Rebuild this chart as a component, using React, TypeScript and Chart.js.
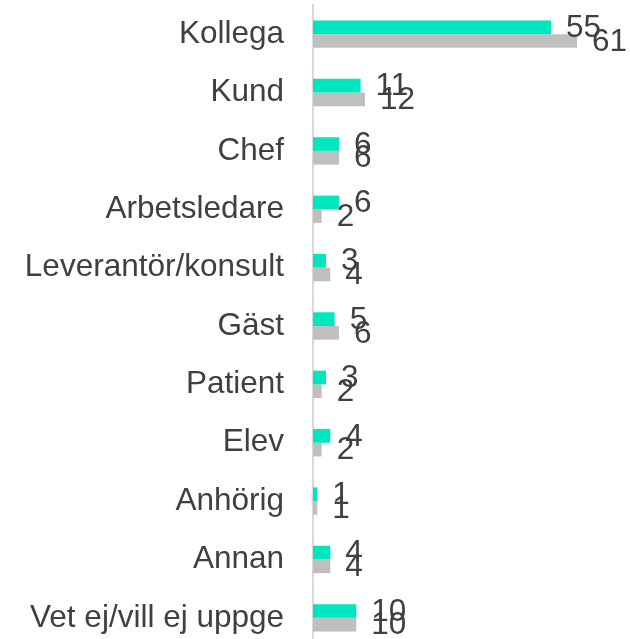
import React, { useEffect, useRef } from "react";
import { Chart, registerables } from "chart.js";

Chart.register(...registerables);

const categories = [
  "Kollega",
  "Kund",
  "Chef",
  "Arbetsledare",
  "Leverantör/konsult",
  "Gäst",
  "Patient",
  "Elev",
  "Anhörig",
  "Annan",
  "Vet ej/vill ej uppge",
];
const seriesA = [55, 11, 6, 6, 3, 5, 3, 4, 1, 4, 10];
const seriesB = [61, 12, 6, 2, 4, 6, 2, 2, 1, 4, 10];

const FONT = "'Liberation Sans', Arial, sans-serif";
const TEXT = "#404040";

const valueLabels = {
  id: "valueLabels",
  afterDatasetsDraw(chart: any) {
    const ctx = chart.ctx;
    ctx.save();
    ctx.font = `31.5px ${FONT}`;
    ctx.fillStyle = TEXT;
    ctx.textAlign = "left";
    ctx.textBaseline = "middle";
    chart.data.datasets.forEach((ds: any, di: number) => {
      const meta = chart.getDatasetMeta(di);
      meta.data.forEach((el: any, i: number) => {
        ctx.fillText(String(ds.data[i]), el.x + 15, el.y + 1);
      });
    });
    ctx.restore();
  },
};

export default function App() {
  const ref = useRef<HTMLCanvasElement | null>(null);
  useEffect(() => {
    if (!ref.current) return;
    const chart = new Chart(ref.current, {
      type: "bar",
      data: {
        labels: categories,
        datasets: [
          {
            data: seriesA,
            backgroundColor: "#00E6BE",
            categoryPercentage: 0.469,
            barPercentage: 1,
          },
          {
            data: seriesB,
            backgroundColor: "#BFBFBF",
            categoryPercentage: 0.469,
            barPercentage: 1,
          },
        ],
      },
      options: {
        indexAxis: "y",
        animation: false,
        responsive: false,
        layout: { padding: { top: 5, right: 14, bottom: 0, left: 0 } },
        plugins: {
          legend: { display: false },
          tooltip: { enabled: false },
        },
        scales: {
          x: {
            display: false,
            min: 0,
            max: 70,
          },
          y: {
            grid: { display: false, drawTicks: false, tickLength: 0 },
            border: { display: true, color: "#D9D9D9", width: 2 },
            ticks: {
              color: TEXT,
              padding: 29,
              font: { family: FONT, size: 31.5 },
              autoSkip: false,
            },
            afterFit: (s: any) => {
              s.width = 313;
              s.paddingTop = 0;
              s.paddingBottom = 0;
            },
          },
        },
      },
      plugins: [valueLabels],
    });
    return () => chart.destroy();
  }, []);
  return (
    <div
      style={{
        position: "fixed",
        left: 0,
        top: 0,
        width: 630,
        height: 639,
        overflow: "hidden",
        background: "#fff",
      }}
    >
      <canvas ref={ref} width={630} height={647} style={{ width: 630, height: 647, display: "block" }} />
    </div>
  );
}
